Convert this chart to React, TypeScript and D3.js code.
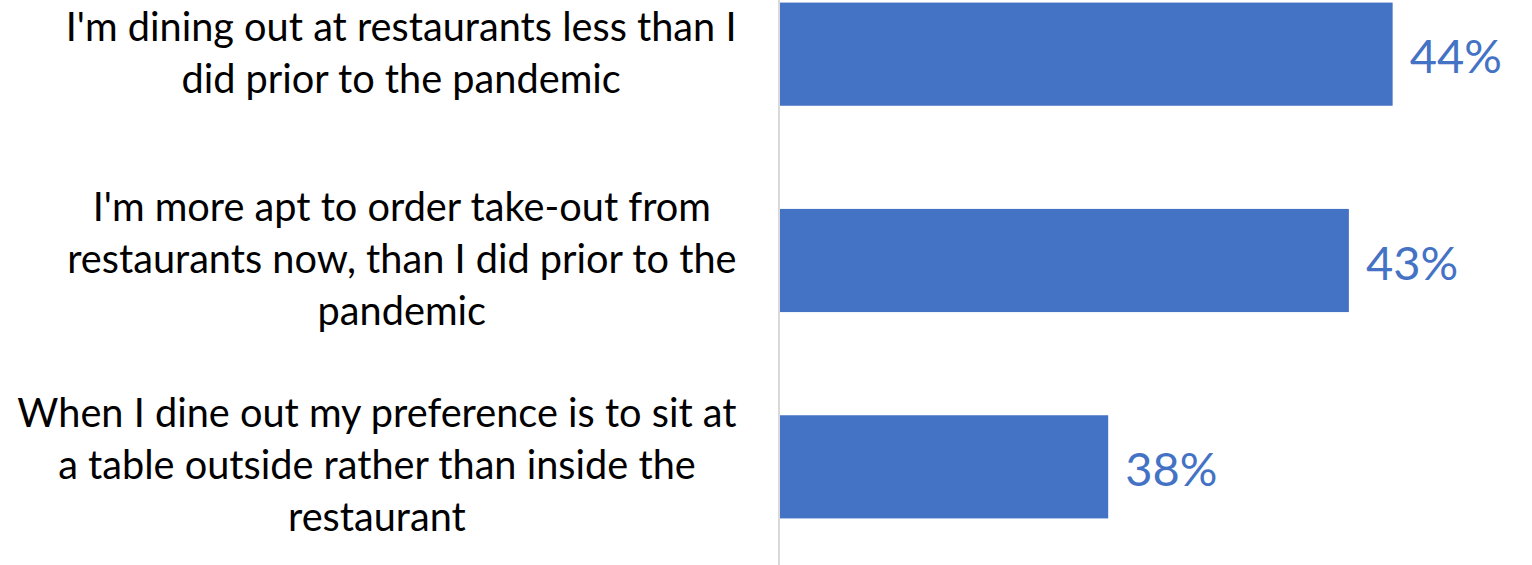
import { useEffect, useRef } from "react";
import * as d3 from "d3";

const W = 1532, H = 565;

// each category label is kept as the lines it wraps to in the original
const categories = [
  "I'm dining out at restaurants less than I did prior to the pandemic",
  "I'm more apt to order take-out from restaurants now, than I did prior to the pandemic",
  "When I dine out my preference is to sit at a table outside rather than inside the restaurant",
];
const categoryLines = [
  ["I'm dining out at restaurants less than I", "did prior to the pandemic"],
  ["I'm more apt to order take-out from", "restaurants now, than I did prior to the", "pandemic"],
  ["When I dine out my preference is to sit at", "a table outside rather than inside the", "restaurant"],
];
const values = [44, 43, 37.5];

const BLUE = "#4472C4";
const FONT = "Lato, 'Open Sans', sans-serif";
const AXIS_X = 779;
const LABEL_RIGHT = 736.5;
const LINE_H = 52;

export default function App() {
  const ref = useRef<SVGSVGElement>(null);

  useEffect(() => {
    const svg = d3.select(ref.current!);
    svg.selectAll("*").remove();

    const y = d3.scaleBand<string>().domain(categories).range([-49, 570])
      .paddingInner(0.5).paddingOuter(0.25);
    const x = d3.scaleLinear([30, 50], [AXIS_X + 1, AXIS_X + 1 + 20 * 43.76]);

    // bars
    svg.append("g").selectAll("rect").data(categories).join("rect")
      .attr("x", x(30))
      .attr("y", (d) => y(d)!)
      .attr("width", (_, i) => x(values[i]) - x(30))
      .attr("height", y.bandwidth())
      .attr("fill", BLUE);

    // vertical category axis line
    svg.append("line")
      .attr("x1", AXIS_X).attr("x2", AXIS_X)
      .attr("y1", y.range()[0]).attr("y2", y.range()[1])
      .attr("stroke", "#D9D9D9").attr("stroke-width", 2);

    // value labels
    svg.append("g").selectAll("text").data(categories).join("text")
      .attr("x", (_, i) => x(values[i]) + 17)
      .attr("y", (d) => y(d)! + y.bandwidth() / 2 + 19)
      .attr("fill", BLUE)
      .style("font-family", FONT)
      .style("font-size", "47px")
      .text((_, i) => `${Math.round(values[i])}%`);

    // category labels: block right-aligned to the axis, lines centred in the block
    categories.forEach((c, ci) => {
      const lines = categoryLines[ci];
      const cy = y(c)! + y.bandwidth() / 2;
      const g = svg.append("g");
      const texts = g.selectAll("text").data(lines).join("text")
        .attr("y", (_, i) => cy + 12.5 + (i - (lines.length - 1) / 2) * LINE_H)
        .attr("text-anchor", "middle")
        .attr("fill", "#000")
        .style("font-family", FONT)
        .style("font-size", "39.7px")
        .text((d) => d);
      let maxW = 0;
      texts.each(function () {
        maxW = Math.max(maxW, (this as SVGTextElement).getComputedTextLength());
      });
      texts.attr("x", LABEL_RIGHT - maxW / 2);
    });
  }, []);

  return (
    <svg
      ref={ref}
      width={W}
      height={H}
      style={{ position: "absolute", left: 0, top: 0, display: "block", background: "#fff" }}
    />
  );
}
